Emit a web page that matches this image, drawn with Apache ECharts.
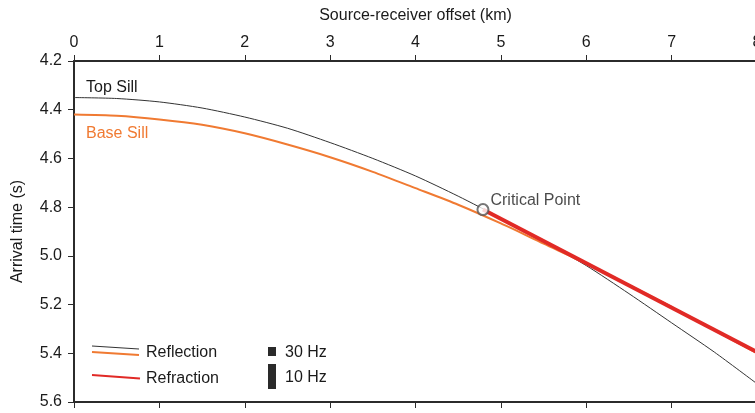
<!DOCTYPE html>
<html>
<head>
<meta charset="utf-8">
<script src="https://cdn.jsdelivr.net/npm/echarts@6/dist/echarts.min.js"></script>
<style>
  html, body { margin: 0; padding: 0; background: #fff; }
  #chart { width: 755px; height: 413px; }
</style>
</head>
<body>
<div id="chart"></div>
<script>
// offsets (km)
var offsets = [0, 0.5, 1, 1.5, 2, 2.5, 3, 3.5, 4, 4.5, 5, 5.5, 6, 6.5, 7, 7.5, 8];
// arrival times (s)
var topSill  = [4.35, 4.354, 4.368, 4.393, 4.43, 4.476, 4.535, 4.60, 4.672, 4.755, 4.845, 4.94, 5.04, 5.155, 5.275, 5.395, 5.525];
var baseSill = [4.42, 4.425, 4.44, 4.462, 4.497, 4.543, 4.595, 4.655, 4.722, 4.79, 4.867, 4.95, 5.032, 5.12, 5.21, 5.305, 5.40];
var refrX = [4.79, 8];
var refrT = [4.81, 5.395];
var critical = [4.79, 4.81];
var xTicks = [0, 8, 1];
var yTicks = [4.2, 5.6, 0.2];

function pairs(xs, ys) {
  return xs.map(function (x, i) { return [x, ys[i]]; });
}

var font = 'Liberation Sans, Arial, sans-serif';
var axisCol = '#2b2b2b';
var txt = '#1a1a1a';

var myChart = echarts.init(document.getElementById('chart'));
var option = {
  animation: false,
  backgroundColor: '#fff',
  grid: { left: 74, top: 61, right: -2, bottom: 11, containLabel: false, outerBoundsMode: 'none' },
  xAxis: [
    {
      type: 'value', position: 'top',
      min: xTicks[0], max: xTicks[1], interval: xTicks[2],
      name: 'Source-receiver offset (km)', nameLocation: 'middle', nameGap: 37,
      nameTextStyle: { fontFamily: font, fontSize: 16, color: txt },
      axisLine: { lineStyle: { color: axisCol, width: 2 } },
      axisTick: { length: 6, lineStyle: { color: axisCol, width: 1 } },
      axisLabel: { fontFamily: font, fontSize: 16, color: txt, margin: 10, hideOverlap: false },
      splitLine: { show: false }
    },
    {
      type: 'value', position: 'bottom',
      min: xTicks[0], max: xTicks[1], interval: xTicks[2],
      axisLine: { lineStyle: { color: axisCol, width: 2 } },
      axisTick: { length: 6, lineStyle: { color: axisCol, width: 1 } },
      axisLabel: { show: false },
      splitLine: { show: false }
    }
  ],
  yAxis: {
    type: 'value', inverse: true,
    min: yTicks[0], max: yTicks[1], interval: yTicks[2],
    name: 'Arrival time (s)', nameLocation: 'middle', nameGap: 48,
    nameTextStyle: { fontFamily: font, fontSize: 16, color: txt },
    axisLine: { lineStyle: { color: axisCol, width: 2 } },
    axisTick: { length: 6, lineStyle: { color: axisCol, width: 1 } },
    axisLabel: {
      fontFamily: font, fontSize: 16, color: txt, margin: 12,
      formatter: function (v) { return v.toFixed(1); }
    },
    splitLine: { show: false }
  },
  series: [
    {
      name: 'Top Sill', type: 'line', smooth: 0.25, showSymbol: false,
      data: pairs(offsets, topSill),
      lineStyle: { color: '#333', width: 1 }, z: 2
    },
    {
      name: 'Base Sill', type: 'line', smooth: 0.25, showSymbol: false,
      data: pairs(offsets, baseSill),
      lineStyle: { color: '#f07a32', width: 2 }, z: 3
    },
    {
      name: 'Refraction', type: 'line', showSymbol: false,
      data: pairs(refrX, refrT),
      lineStyle: { color: '#e12a26', width: 4 }, z: 4
    },
    {
      name: 'Critical Point', type: 'scatter',
      data: [critical],
      symbol: 'circle', symbolSize: 11,
      itemStyle: { color: '#fff', borderColor: '#555', borderWidth: 2 },
      label: {
        show: true, position: 'right', distance: 1, offset: [0, -9],
        formatter: 'Critical Point',
        fontFamily: font, fontSize: 16, color: txt
      },
      z: 5
    }
  ],
  graphic: [
    { type: 'text', left: 86, top: 80, style: { text: 'Top Sill', font: '16px ' + font, fill: txt } },
    { type: 'text', left: 86, top: 126, style: { text: 'Base Sill', font: '16px ' + font, fill: '#f07a32' } },
    // legend
    { type: 'line', shape: { x1: 92, y1: 346, x2: 139, y2: 349 }, style: { stroke: '#333', lineWidth: 1 } },
    { type: 'line', shape: { x1: 92, y1: 352, x2: 139, y2: 355 }, style: { stroke: '#f07a32', lineWidth: 2 } },
    { type: 'text', left: 146, top: 345, style: { text: 'Reflection', font: '16px ' + font, fill: txt } },
    { type: 'line', shape: { x1: 92, y1: 375, x2: 140, y2: 378.5 }, style: { stroke: '#e12a26', lineWidth: 2 } },
    { type: 'text', left: 146, top: 371, style: { text: 'Refraction', font: '16px ' + font, fill: txt } },
    { type: 'rect', shape: { x: 268, y: 347, width: 8, height: 9 }, style: { fill: '#2a2a2a' } },
    { type: 'text', left: 285, top: 345, style: { text: '30 Hz', font: '16px ' + font, fill: txt } },
    { type: 'rect', shape: { x: 268, y: 364, width: 8, height: 25 }, style: { fill: '#2a2a2a' } },
    { type: 'text', left: 285, top: 370, style: { text: '10 Hz', font: '16px ' + font, fill: txt } }
  ]
};
myChart.setOption(option);
</script>
</body>
</html>
